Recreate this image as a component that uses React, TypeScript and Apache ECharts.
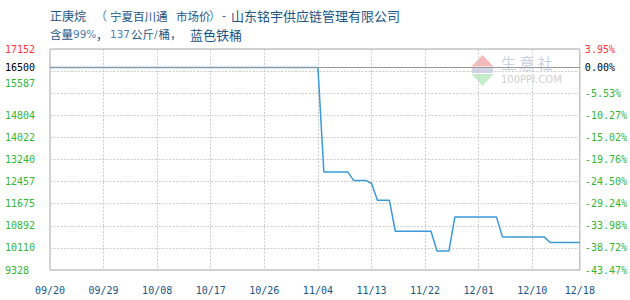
import React, { useEffect, useRef } from 'react';
import * as echarts from 'echarts';

// Daily quotation dates, 09/20 – 12/18
const dates = [
  '09/20', '09/21', '09/22', '09/23', '09/24', '09/25', '09/26', '09/27', '09/28', '09/29', '09/30',
  '10/01', '10/02', '10/03', '10/04', '10/05', '10/06', '10/07', '10/08', '10/09', '10/10',
  '10/11', '10/12', '10/13', '10/14', '10/15', '10/16', '10/17', '10/18', '10/19', '10/20',
  '10/21', '10/22', '10/23', '10/24', '10/25', '10/26', '10/27', '10/28', '10/29', '10/30', '10/31',
  '11/01', '11/02', '11/03', '11/04', '11/05', '11/06', '11/07', '11/08', '11/09', '11/10',
  '11/11', '11/12', '11/13', '11/14', '11/15', '11/16', '11/17', '11/18', '11/19', '11/20',
  '11/21', '11/22', '11/23', '11/24', '11/25', '11/26', '11/27', '11/28', '11/29', '11/30',
  '12/01', '12/02', '12/03', '12/04', '12/05', '12/06', '12/07', '12/08', '12/09', '12/10',
  '12/11', '12/12', '12/13', '12/14', '12/15', '12/16', '12/17', '12/18',
];

// Price, yuan/ton
const prices = [
  16500, 16500, 16500, 16500, 16500, 16500, 16500, 16500, 16500, 16500, 16500,
  16500, 16500, 16500, 16500, 16500, 16500, 16500, 16500, 16500, 16500,
  16500, 16500, 16500, 16500, 16500, 16500, 16500, 16500, 16500, 16500,
  16500, 16500, 16500, 16500, 16500, 16500, 16500, 16500, 16500, 16500, 16500,
  16500, 16500, 16500, 16500, 12800, 12800, 12800, 12800, 12800, 12500,
  12500, 12500, 12400, 11800, 11800, 11800, 10700, 10700, 10700, 10700,
  10700, 10700, 10700, 10000, 10000, 10000, 11200, 11200, 11200, 11200,
  11200, 11200, 11200, 11200, 10500, 10500, 10500, 10500, 10500, 10500,
  10500, 10500, 10300, 10300, 10300, 10300, 10300, 10300,
];

// Left scale: price ticks, bottom to top (blank slot is covered by the base price)
const priceTickLabels = ['9328', '10110', '10892', '11675', '12457', '13240', '14022', '14804', '15587', '', '17152'];
// Right scale: change against the base price
const changeTickLabels = ['-43.47%', '-38.72%', '-33.98%', '-29.24%', '-24.50%', '-19.76%', '-15.02%', '-10.27%', '-5.53%', '', '3.95%'];
const priceMin = 9328;
const priceMax = 17152;
const basePrice = 16500;
const baseLabel = '16500';
const baseChangeLabel = '0.00%';

const MONO = '"DejaVu Sans Mono", "Liberation Mono", monospace';
const CJK = '"Noto Sans CJK SC", "Noto Sans", sans-serif';
const LATIN = '"DejaVu Sans", Verdana, sans-serif';
const DARK = '#1a5585';
const LIGHT = '#4a7fb0';
const GREEN = '#33b533';
const RED = '#ff3333';

function txt(text: string, x: number, y: number, size: number, family: string, fill: string, z = 5) {
  return {
    type: 'text',
    x,
    y,
    z,
    silent: true,
    style: { text, fill, fontSize: size, fontFamily: family, verticalAlign: 'middle', align: 'left' },
  };
}

export default function App() {
  const ref = useRef<HTMLDivElement>(null);

  useEffect(() => {
    if (!ref.current) return;
    const chart = echarts.init(ref.current, null, { renderer: 'svg' });

    const tickRich = {
      hi: { color: RED, fontFamily: MONO, fontSize: 10 },
      lo: { color: GREEN, fontFamily: MONO, fontSize: 10 },
      up: { color: GREEN, fontFamily: MONO, fontSize: 10, padding: [0, 0, 20, 0] },
    };

    const option: any = {
      animation: false,
      grid: {
        left: 50,
        right: 50,
        top: 49,
        bottom: 30,
        show: true,
        borderColor: '#a6a6a6',
        borderWidth: 1,
        backgroundColor: 'transparent',
      },
      xAxis: {
        type: 'category',
        data: dates,
        boundaryGap: false,
        axisLine: { show: false },
        axisTick: { show: false },
        axisLabel: {
          interval: (i: number) => i % 9 === 0 || i === dates.length - 1,
          color: DARK,
          fontFamily: MONO,
          fontSize: 10,
          margin: 15,
        },
        splitLine: {
          show: true,
          interval: (i: number) => i % 9 === 0 && i > 0,
          lineStyle: { color: '#cccccc', type: [2, 1.5], width: 1 },
        },
      },
      yAxis: [
        {
          type: 'value',
          min: priceMin,
          max: priceMax,
          show: false,
          splitLine: { show: false },
        },
        {
          type: 'value',
          position: 'left',
          min: 0,
          max: priceTickLabels.length - 1,
          interval: 1,
          axisLine: { show: false },
          axisTick: { show: false },
          axisLabel: {
            align: 'left',
            margin: 45,
            formatter: (v: number) => {
              const i = Math.round(v);
              const t = priceTickLabels[i];
              if (!t) return '';
              const s = i === priceTickLabels.length - 1 ? 'hi' : i === 8 ? 'up' : 'lo';
              return `{${s}|${t}}`;
            },
            rich: tickRich,
          },
          splitLine: { show: true, lineStyle: { color: '#cccccc', type: [2, 1.5], width: 1 } },
        },
        {
          type: 'value',
          position: 'right',
          min: 0,
          max: changeTickLabels.length - 1,
          interval: 1,
          axisLine: { show: false },
          axisTick: { show: false },
          axisLabel: {
            align: 'left',
            margin: 5,
            formatter: (v: number) => {
              const i = Math.round(v);
              const t = changeTickLabels[i];
              if (!t) return '';
              return `{${i === changeTickLabels.length - 1 ? 'hi' : 'lo'}|${t}}`;
            },
            rich: tickRich,
          },
          splitLine: { show: false },
        },
      ],
      series: [
        {
          // carries the base-price reference line beneath the price line
          type: 'line',
          yAxisIndex: 0,
          data: prices,
          z: 1,
          showSymbol: false,
          silent: true,
          lineStyle: { opacity: 0 },
          markLine: {
            silent: true,
            symbol: 'none',
            lineStyle: { color: '#999999', type: 'solid', width: 1 },
            data: [
              {
                yAxis: basePrice,
                label: {
                  show: true,
                  position: 'start',
                  formatter: baseLabel,
                  color: '#000000',
                  fontFamily: MONO,
                  fontSize: 10,
                  distance: 15,
                },
              },
              {
                yAxis: basePrice,
                label: {
                  show: true,
                  position: 'end',
                  formatter: baseChangeLabel,
                  color: '#000000',
                  fontFamily: MONO,
                  fontSize: 10,
                  distance: 5,
                },
              },
            ],
          },
        },
        {
          type: 'line',
          yAxisIndex: 0,
          data: prices,
          z: 3,
          showSymbol: false,
          lineStyle: { color: '#3a9ad9', width: 1.5 },
          itemStyle: { color: '#3a9ad9' },
        },
      ],
      graphic: [
        // title, first line
        txt('正庚烷', 50, 15.5, 12, CJK, DARK),
        txt('（', 95, 15.5, 12, CJK, LIGHT),
        txt('宁夏百川通', 110, 15.5, 11.5, CJK, DARK),
        txt('市场价', 176, 15.5, 11.5, CJK, DARK),
        txt('）', 209, 15.5, 12, CJK, LIGHT),
        txt('-', 222, 15.5, 11, LATIN, DARK),
        txt('山东铭宇供应链管理有限公司', 231, 15.5, 13, CJK, DARK),
        // title, second line
        txt('含量', 50, 34, 11.5, CJK, DARK),
        txt('99%', 73, 34, 10.5, LATIN, LIGHT),
        txt('，', 96, 34, 12, CJK, DARK),
        txt('137', 110, 34, 10.5, LATIN, LIGHT),
        txt('公斤', 131, 34, 11.5, CJK, DARK),
        txt('/', 154, 34, 10.5, LATIN, LIGHT),
        txt('桶，', 158.5, 34, 11.5, CJK, DARK),
        txt('蓝色铁桶', 190, 34, 13, CJK, DARK),
        // site mark
        {
          type: 'polygon',
          z: -10,
          silent: true,
          shape: { points: [[482.5, 55], [471.5, 66.5], [493.5, 66.5]] },
          style: { fill: '#f6b9b9' },
        },
        {
          type: 'rect',
          z: -10,
          silent: true,
          shape: { x: 472, y: 68, width: 21, height: 5 },
          style: { fill: '#d3d6ea' },
        },
        {
          type: 'polygon',
          z: -10,
          silent: true,
          shape: { points: [[471.5, 74], [493.5, 74], [482.5, 86]] },
          style: { fill: '#c3ecc8' },
        },
        txt('生 意 社', 501, 62, 15, CJK, '#c9d0e2', -10),
        txt('100PPI.COM', 501, 79.5, 10, LATIN, '#cfcfcf', -10),
      ],
    };

    chart.setOption(option);
    return () => chart.dispose();
  }, []);

  return (
    <div
      ref={ref}
      style={{ position: 'fixed', left: 0, top: 0, width: 630, height: 300, background: '#ffffff' }}
    />
  );
}
